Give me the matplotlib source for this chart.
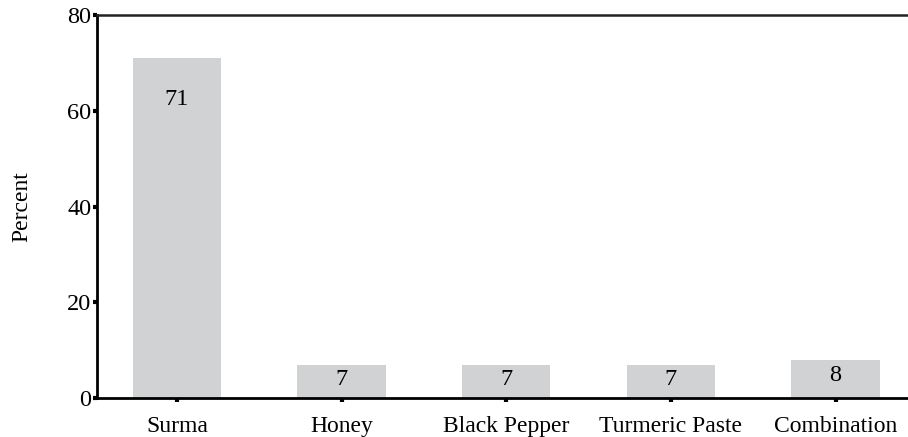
import matplotlib.pyplot as plt
import numpy as np

plt.rcParams['font.family'] = ['Liberation Serif', 'DejaVu Serif']

remedies = ["Surma", "Honey", "Black Pepper", "Turmeric Paste", "Combination"]
percent = [71, 7, 7, 7, 8]
y_ticks = [0, 20, 40, 60, 80]

bar_color = "#D1D2D4"

fig = plt.figure(figsize=(9.08, 4.37), dpi=100)
ax = fig.add_axes([0.1068, 0.0892, 0.8932, 0.8765])

x = np.arange(len(remedies))
ax.bar(x, percent, width=0.537, color=bar_color, zorder=2)

# value labels sit inside the bars, a bit lower for the tall one
for xi, v in zip(x, percent):
    offset = 8.6 if v > 20 else 3.2
    ax.text(xi, v - offset, str(v), ha="center", va="center", fontsize=17.5, zorder=3)

ax.set_xlim(-0.486, 4.44)
ax.set_ylim(0, 80)
ax.set_xticks(x)
ax.set_xticklabels(remedies, fontsize=17)
ax.set_yticks(y_ticks)
ax.set_yticklabels([str(t) for t in y_ticks], fontsize=17.5)
ax.tick_params(axis="both", direction="out", length=3, width=3, color="black")
ax.tick_params(axis="x", pad=10)
ax.tick_params(axis="y", pad=1)

ax.spines["right"].set_visible(False)
for side in ("left", "bottom"):
    ax.spines[side].set_linewidth(2)
    ax.spines[side].set_color("black")
ax.spines["top"].set_linewidth(1.8)
ax.spines["top"].set_color("#222222")

ax.set_ylabel("Percent", fontsize=17, labelpad=25)

fig.savefig("out.png", dpi=100)
